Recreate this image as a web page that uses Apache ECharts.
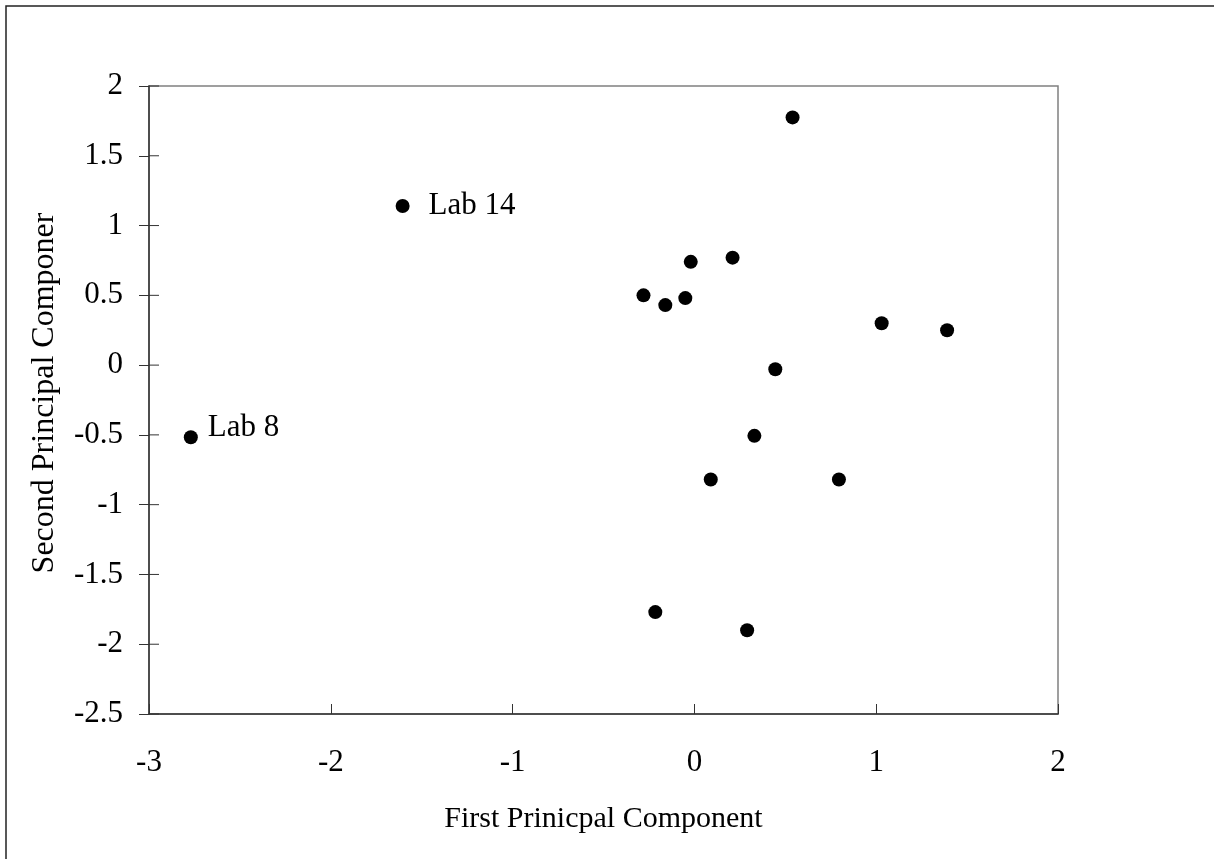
<!DOCTYPE html>
<html>
<head>
<meta charset="utf-8">
<script src="https://cdn.jsdelivr.net/npm/echarts@6/dist/echarts.min.js"></script>
<style>
html, body { margin: 0; padding: 0; background: #fff; }
#chart { width: 1214px; height: 859px; }
</style>
</head>
<body>
<div id="chart"></div>
<script>
// scores
var pc1 = [0.54, -0.02, 0.21, -0.28, -0.16, -0.05, 1.03, 1.39, 0.445, 0.33, 0.09, 0.795, -0.215, 0.29, -1.605, -2.77];
var pc2 = [1.775, 0.74, 0.77, 0.50, 0.43, 0.48, 0.30, 0.25, -0.03, -0.507, -0.82, -0.82, -1.77, -1.90, 1.14, -0.517];
var pointLabels = ['', '', '', '', '', '', '', '', '', '', '', '', '', '', 'Lab 14', 'Lab 8'];
var yTickValues = [-2.5, -2, -1.5, -1, -0.5, 0, 0.5, 1, 1.5, 2];

var xTitle = 'First Prinicpal Component';
var yTitle = 'Second Principal Componer';

var font = 'Liberation Serif, Times New Roman, serif';
var fs = 31;
var xMin = -3;

var points = [];
for (var i = 0; i < pc1.length; i++) {
    var item = { value: [pc1[i], pc2[i]] };
    if (pointLabels[i]) {
        item.label = {
            show: true,
            formatter: pointLabels[i],
            position: 'right',
            distance: pointLabels[i] === 'Lab 8' ? 10 : 19,
            offset: pointLabels[i] === 'Lab 8' ? [0, -9] : [0, 0],
            color: '#000',
            fontFamily: font,
            fontSize: fs
        };
    }
    points.push(item);
}

var chart = echarts.init(document.getElementById('chart'));
chart.setOption({
    animation: false,
    grid: {
        left: 149, top: 86, right: 156, bottom: 145,
        show: true, borderColor: '#808080', borderWidth: 1.5
    },
    graphic: [{
        type: 'rect',
        shape: { x: 6, y: 6, width: 1300, height: 1000 },
        style: { fill: 'none', stroke: '#222', lineWidth: 1.5 },
        silent: true
    }],
    xAxis: {
        type: 'value',
        min: xMin, max: 2, interval: 1,
        name: xTitle,
        nameLocation: 'middle',
        nameGap: 90,
        nameTextStyle: { color: '#000', fontFamily: font, fontSize: 30 },
        splitLine: { show: false },
        axisLine: { show: true, onZero: false, lineStyle: { color: '#333', width: 1.5 } },
        axisTick: { show: true, inside: true, length: 10, lineStyle: { color: '#333', width: 1 } },
        axisLabel: { color: '#000', fontFamily: font, fontSize: fs, margin: 33 }
    },
    yAxis: {
        type: 'value',
        min: -2.5, max: 2, interval: 0.5,
        name: yTitle,
        nameLocation: 'middle',
        nameGap: 88,
        nameTextStyle: { color: '#000', fontFamily: font, fontSize: 32, padding: [0, 0, 0, 14] },
        splitLine: { show: false },
        axisLine: { show: true, onZero: false, lineStyle: { color: '#333', width: 1.5 } },
        axisTick: { show: true, inside: false, length: 10, lineStyle: { color: '#333', width: 1 } },
        axisLabel: { color: '#000', fontFamily: font, fontSize: fs, margin: 26 }
    },
    series: [{
        // inner half of the crossing y ticks
        type: 'custom',
        silent: true,
        clip: false,
        data: yTickValues.map(function (v) { return [xMin, v]; }),
        renderItem: function (params, api) {
            var p = api.coord([api.value(0), api.value(1)]);
            return {
                type: 'line',
                shape: { x1: p[0], y1: p[1], x2: p[0] + 10, y2: p[1] },
                style: { stroke: '#333', lineWidth: 1 }
            };
        }
    }, {
        type: 'scatter',
        symbol: 'circle',
        symbolSize: 14,
        itemStyle: { color: '#000', opacity: 1 },
        data: points
    }]
});
</script>
</body>
</html>
